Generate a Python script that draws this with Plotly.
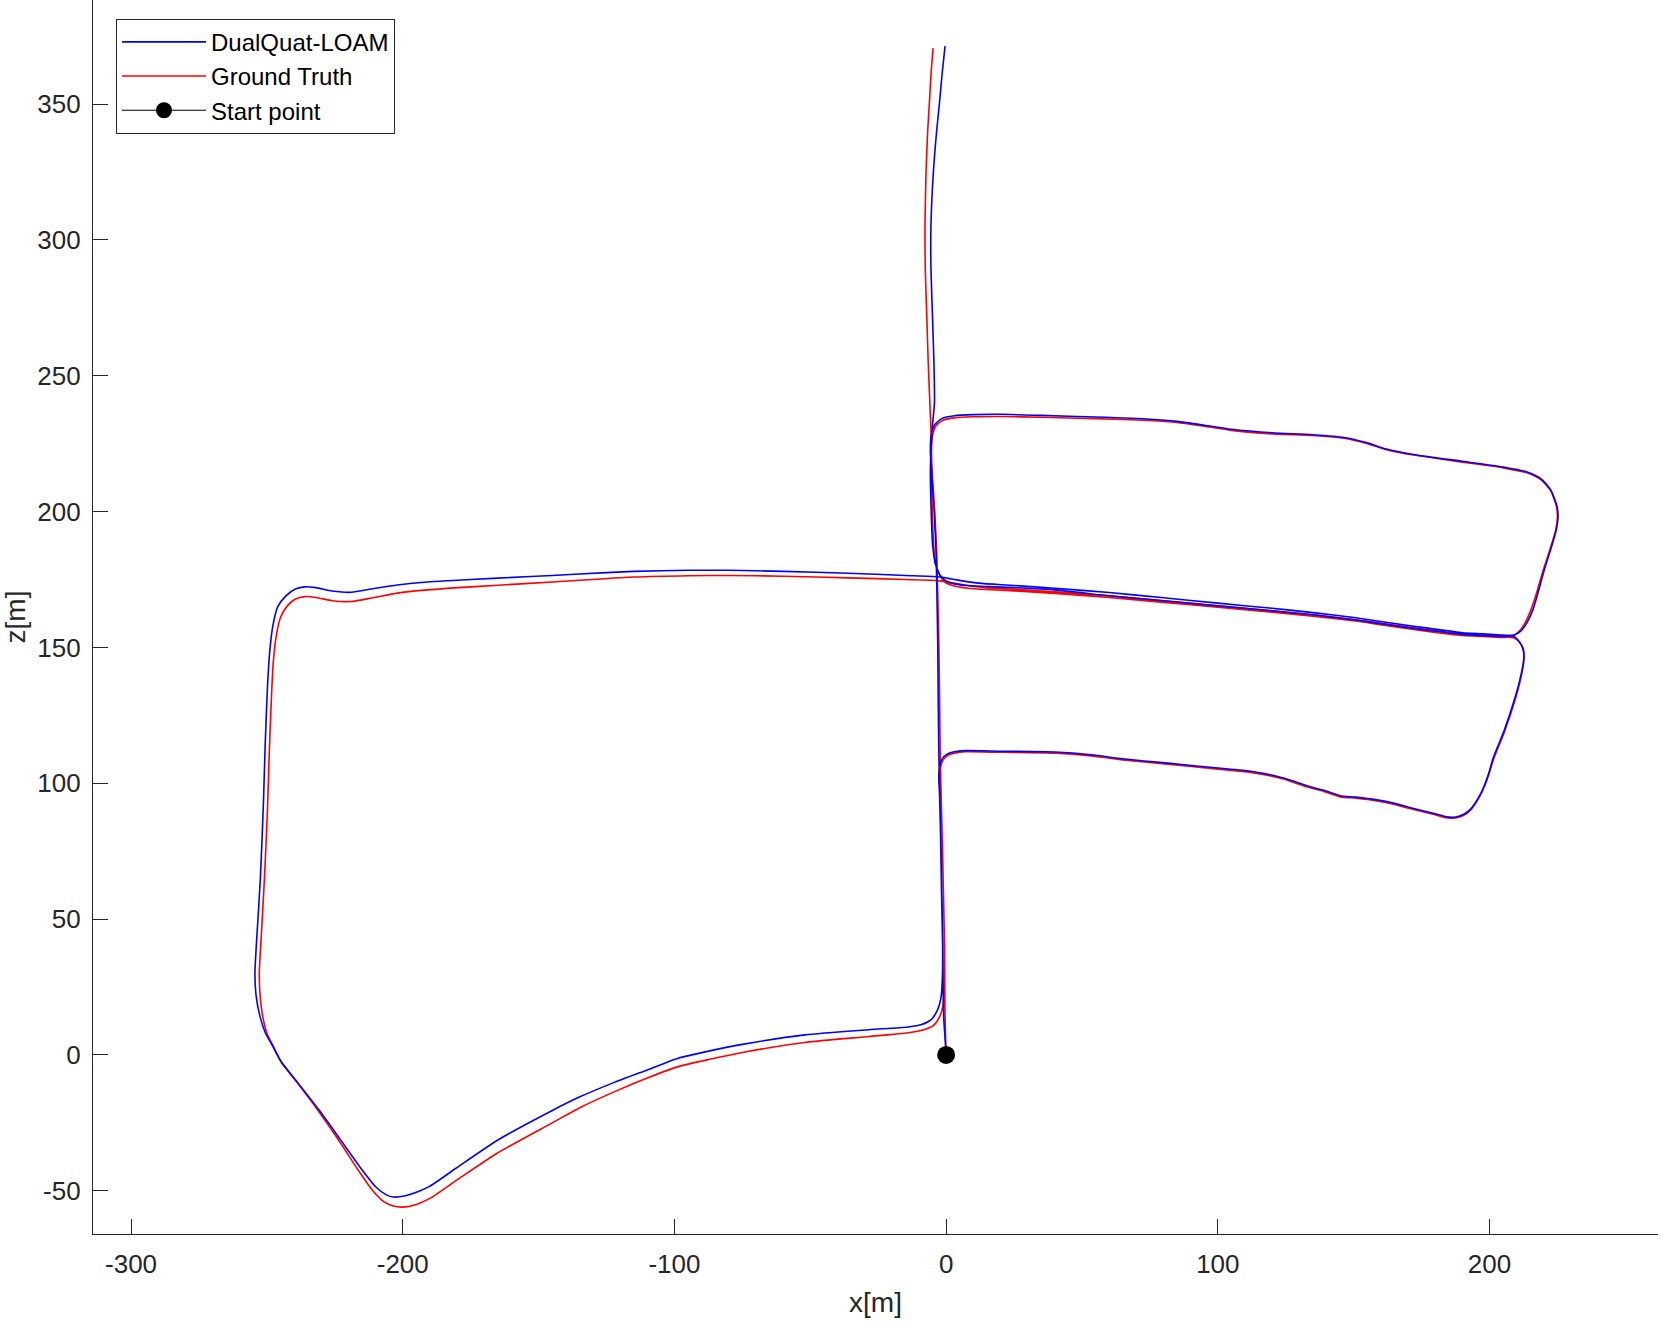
import plotly.graph_objects as go

# ---------------- data ----------------
dq_x = [0, -0.4, -0.9, -1.1, -1.2, -1.6, -1.9, -2.4, -2.7, -2.9, -3.1, -3.4, -3.7, -4.4, -5.2, -5.8, -5.5, -4.2, -1.5,
        3, 10, 20, 35, 55, 75, 85, 95, 105, 120, 135, 147, 155, 162, 172, 190, 205, 214, 219, 222.5, 224.8, 225.2,
        224.5, 222.5, 220, 217.8, 216, 214, 211.5, 209,
        204, 198, 190, 178, 165, 150, 135, 120, 100, 80, 60, 40, 22, 14, 7, 2, -3,
        -15, -36, -60, -80, -95, -115, -135, -155, -175, -192, -202, -211, -219, -226, -232, -236, -239.5, -243,
        -246, -247.8, -249, -249.8, -250.6, -251.3, -252.4, -253.6, -254.4, -254, -252.5, -250.5, -248, -244.6,
        -238.8, -231, -223.2, -215.4, -210, -206, -203.5, -199, -194, -190, -180.4, -165, -145.3, -135, -121.9,
        -110, -98.6, -87, -75, -52, -28.4, -14, -9, -5.5, -3.2, -1.9, -1.4, -1.3,
        -1.7, -2.0, -2.4, -2.7, -2.5, -1.6, 0.5, 3, 7, 20, 40, 53.4, 65, 80.6, 100, 112, 122, 127.4, 133, 139, 145,
        150.8, 158.5, 165, 170.2, 180, 184, 187.5, 190.5, 193, 195.5, 197.5, 199.5, 201.4, 205.3, 209.2, 211.6,
        212.6, 212.3, 211, 209,
        204, 198, 190, 178, 165, 150, 135, 120, 100, 80, 60, 40, 25, 15, 8, 3, -0.5, -2.5, -4, -5, -5.5, -5.8, -5.2,
        -4.3, -4.5, -5, -5.6, -5.6, -4.7, -3.5, -2.5, -1.4, -0.4]
dq_z = [0, 6, 14, 24, 40, 60, 78, 98, 112, 130, 152, 170, 185, 200, 212, 222, 228, 232, 234.3,
        235.3, 235.7, 235.8, 235.4, 234.8, 234, 233.2, 231.8, 230.3, 229, 228.3, 227.2, 225.3, 223, 221, 218.5,
        216.4, 214.5, 212, 208, 202, 198,
        193, 186, 178, 170, 164, 159.5, 156, 154.6,
        154.6, 155, 155.4, 157, 158.8, 161, 162.8, 164.4, 166.3, 168.3, 170.2, 171.8, 173, 173.5, 174.3, 175.2, 176,
        176.5, 177.3, 178, 178.4, 178.4, 178, 177, 176, 175, 174, 173, 171.6, 170.3, 170.8, 172, 172.3, 171.5, 169,
        165, 158, 148, 135, 115, 92, 65, 45, 30, 22, 14, 8, 3.5, -2.7,
        -10, -20, -30.8, -41.7, -48.5, -51.5, -52.3, -51.8, -50.2, -48.3, -41.7, -31.3, -20.6, -15.5, -10,
        -5.5, -1.2, 1.5, 3.9, 7.4, 9.3, 10.3, 11.2, 13, 16.5, 21, 28, 40,
        60, 78, 95, 102, 106, 108.8, 110.8, 111.6, 112, 111.8, 111.5, 110.5, 109, 107.5, 105.6, 104.4, 102.5, 100.9,
        99, 97.4, 95.4,
        94.9, 93.9, 92.6, 91.2, 88.8, 87.7, 87.6, 88.6, 90.5, 94, 97.8, 103, 109.5, 119.2, 130.9, 140,
        146, 149.5, 152, 154,
        154.0, 154.3, 154.8, 156.2, 158, 160.2, 162, 163.5, 165.3, 167.2, 169, 171.2, 172.0, 172.4, 172.8, 173.4,
        174.8, 177, 181, 188, 200, 215, 230,
        240, 255, 271, 290, 305, 325, 340, 350, 362, 371.3]

gt_x = [0, -0.2, -0.4, -0.5, -0.6, -1.0, -1.4, -1.9, -2.2, -2.4, -2.7, -3.1, -3.5, -4.2, -5.0, -5.4, -5.0, -3.8, -1.2,
        3, 10, 20, 35, 55, 75, 85, 95, 105, 120, 135, 147, 155, 162, 172, 190, 205, 214, 219, 222.5, 224.6, 225,
        224.3, 222.2, 219.6, 217.3, 215.3, 213.3, 211, 208.6,
        204, 198, 190, 178, 165, 150, 135, 120, 100, 80, 60, 40, 22, 14, 7, 2, -3,
        -15, -36, -60, -80, -95, -115, -135, -155, -175, -192, -202, -211, -219, -226, -232, -236, -239.5, -242.5,
        -245, -246.6, -247.7, -248.4, -249.1, -249.8, -250.9, -252.0, -252.8, -252.5, -251.5, -250, -247.8, -244.8,
        -239, -231.5, -223.5, -216, -211, -207, -203.5, -200, -195, -190, -180, -165, -145, -135, -122,
        -110, -98.6, -87, -75, -52, -28.4, -14, -8.5, -4.5, -2.2, -1.0, -0.6, -0.6,
        -1.0, -1.4, -1.9, -2.2, -2.0, -1.1, 1, 3.5, 7, 20, 40, 53.4, 65, 80.6, 100, 112, 122, 127.4, 133, 139, 145,
        150.8, 158.5, 165, 170.2, 180, 184, 187.5, 190.5, 193, 195.5, 197.5, 199.5, 201.6, 205.5, 209.4, 211.8,
        212.7, 212.4, 211, 208.8,
        204, 198, 190, 178, 165, 150, 135, 120, 100, 80, 60, 40, 25, 15, 8, 3, -0.5, -2.5, -4, -4.6, -5.1, -5.4, -5.6,
        -6, -6.6, -7.1, -7.7, -7.8, -7.4, -6.8, -6.2, -5.5, -4.8]
gt_z = [0, 6, 14, 24, 40, 60, 78, 98, 112, 130, 152, 170, 185, 200, 212, 222, 228, 231.5, 233.6,
        234.5, 234.9, 235.0, 234.7, 234.2, 233.5, 232.8, 231.4, 229.9, 228.6, 228.0, 226.9, 225.0, 222.8, 220.8,
        218.2, 216.1, 214.2, 211.7, 207.7, 202, 198,
        193, 186, 178, 170, 164, 159.5, 156, 154.3,
        154.2, 154.5, 154.9, 156.4, 158.2, 160.3, 162.0, 163.5, 165.3, 167.2, 169.0, 170.5, 171.6, 172.1, 172.9,
        173.8, 174.6,
        175.0, 175.6, 176.2, 176.5, 176.4, 175.9, 174.7, 173.5, 172.3, 171.1, 170.0, 168.3, 166.9, 167.2, 168.4,
        168.7, 167.8, 165.3,
        161, 154, 144, 130, 112, 90, 65, 45, 30, 22, 14, 8, 3.5, -2.5,
        -10, -20, -31.5, -43, -50, -54, -55.6, -56, -55, -52.8, -46, -36, -25, -19.5, -13.5,
        -8.5, -4.3, -1.6, 0.9, 4.6, 6.8, 8.2, 9.2, 11, 14.5, 19, 26, 40,
        60, 78, 95, 102, 106, 108.6, 110.5, 111.2, 111.6, 111.4, 111.1, 110.1, 108.6, 107.1, 105.2, 104.0, 102.1,
        100.5, 98.6, 97.0, 95.0,
        94.5, 93.5, 92.2, 90.8, 88.4, 87.3, 87.2, 88.2, 90.1, 93.6, 97.4, 102.6, 109.2, 119, 130.7, 140,
        146, 149.5, 152, 153.6,
        153.7, 154.0, 154.4, 155.8, 157.6, 159.8, 161.5, 163.0, 164.8, 166.6, 168.4, 169.9, 170.8, 171.3, 171.8,
        172.6, 174, 177, 181, 188, 200, 215, 230,
        240, 255, 271, 290, 305, 325, 340, 350, 362, 370.6]

start_x = [0]
start_z = [0]

x_ticks = [-300, -200, -100, 0, 100, 200]
x_tick_text = ["-300", "-200", "-100", "0", "100", "200"]
z_ticks = [-50, 0, 50, 100, 150, 200, 250, 300, 350]
z_tick_text = ["-50", "0", "50", "100", "150", "200", "250", "300", "350"]

# ---------------- figure ----------------
AX = "#262626"
FONT = "Liberation Sans, Arial, Helvetica, sans-serif"

fig = go.Figure()
fig.add_trace(go.Scatter(x=gt_x, y=gt_z, mode="lines", name="Ground Truth", legendrank=2,
                         line=dict(color="#ff0000", width=1.6, shape="spline", smoothing=0.6)))
fig.add_trace(go.Scatter(x=dq_x, y=dq_z, mode="lines", name="DualQuat-LOAM", legendrank=1,
                         line=dict(color="#0000ff", width=1.6, shape="spline", smoothing=0.6)))
fig.add_trace(go.Scatter(x=start_x, y=start_z, mode="lines+markers", name="Start point", legendrank=3,
                         line=dict(color="black", width=1.2),
                         marker=dict(color="black", size=18)))

fig.update_layout(
    width=1661, height=1321,
    margin=dict(l=93, r=3, t=0, b=87),
    paper_bgcolor="white", plot_bgcolor="white",
    font=dict(family=FONT, size=26, color=AX),
    showlegend=True,
    legend=dict(x=0.0147, y=0.9848, xanchor="left", yanchor="top",
                bgcolor="white", bordercolor=AX, borderwidth=1,
                font=dict(size=24, color="black"), itemwidth=84,
                tracegroupgap=0, traceorder="normal"),
    xaxis=dict(range=[-314, 262], tickvals=x_ticks, ticktext=x_tick_text,
               showline=True, linecolor=AX, linewidth=1.3, mirror=False,
               ticks="inside", ticklen=15, tickcolor=AX, tickwidth=1.3,
               ticklabelstandoff=7,
               showgrid=False, zeroline=False,
               title=dict(text="x[m]", font=dict(size=28, color=AX), standoff=14)),
    yaxis=dict(range=[-65.9, 388.3], tickvals=z_ticks, ticktext=z_tick_text,
               showline=True, linecolor=AX, linewidth=1.3, mirror=False,
               ticks="inside", ticklen=15, tickcolor=AX, tickwidth=1.3,
               ticklabelstandoff=6,
               showgrid=False, zeroline=False,
               title=dict(text="z[m]", font=dict(size=28, color=AX), standoff=14)),
)

fig.write_html("out.html", config={"displayModeBar": False},
               post_script="document.body.style.margin='0px';document.body.style.overflow='hidden';")
